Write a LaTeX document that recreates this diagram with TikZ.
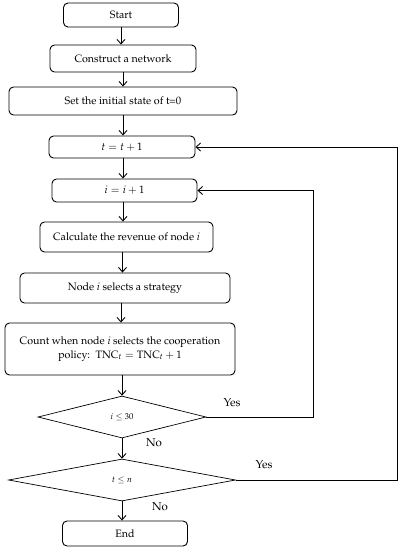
\documentclass[tikz,border=0pt]{standalone}
\usepackage[T1]{fontenc}
\usepackage{mathpazo}
\usetikzlibrary{shapes.geometric,arrows.meta}
\begin{document}
\begin{tikzpicture}[x=1pt,y=-1pt,
  box/.style={draw,line width=0.9pt,rounded corners=4.5pt,inner sep=2pt,align=center,font=\fontsize{10.7}{13.5}\selectfont},
  dia/.style={draw,line width=0.7pt,diamond,inner sep=0pt,font=\fontsize{8.5}{10}\selectfont},
  arr/.style={line width=0.9pt,-{Straight Barb[length=4.5pt,width=8pt,line width=0.9pt]}},
  lbl/.style={font=\fontsize{11.5}{13}\selectfont,inner sep=0pt}]
\useasboundingbox (0,0) rectangle (401,550);
\node[box,minimum width=115pt,minimum height=24pt] (start) at (121,15) {Start};
\node[box,minimum width=146pt,minimum height=27pt] (net) at (123,58.5) {Construct a network};
\node[box,minimum width=228pt,minimum height=28pt] (init) at (123,101) {Set the initial state of t=0};
\node[box,minimum width=146pt,minimum height=22pt] (tinc) at (122,147) {$t=t+1$};
\node[box,minimum width=145pt,minimum height=23pt] (iinc) at (124.5,190.5) {$i=i+1$};
\node[box,minimum width=173pt,minimum height=30pt] (rev) at (126.5,237) {Calculate the revenue of node \textit{i}};
\node[box,minimum width=210pt,minimum height=30pt] (sel) at (125,288) {Node \textit{i} selects a strategy};
\node[box,minimum width=230pt,minimum height=52pt] (cnt) at (120,349) {Count when node \textit{i} selects the cooperation\\policy:\ \ $\mathrm{TNC}_t=\mathrm{TNC}_t+1$};
\node[dia,minimum width=168pt,minimum height=42pt,aspect=4] (d1) at (122,417) {$i\le 30$};
\node[dia,minimum width=227pt,minimum height=42pt,aspect=5.4] (d2) at (122,480) {$t\le n$};
\node[box,minimum width=125pt,minimum height=25pt] (end) at (125,533.5) {End};
\coordinate (c1) at (313,0);
\coordinate (c2) at (397,0);
\draw[arr] (start.south -| 121,0) -- (net.north -| 121,0);
\draw[arr] (net.south -| 123,0) -- (init.north -| 123,0);
\draw[arr] (init.south -| 123,0) -- (tinc.north -| 123,0);
\draw[arr] (tinc.south -| 123,0) -- (iinc.north -| 123,0);
\draw[arr] (iinc.south -| 123,0) -- (rev.north -| 123,0);
\draw[arr] (rev.south -| 122.5,0) -- (sel.north -| 122.5,0);
\draw[arr] (sel.south -| 121,0) -- (cnt.north -| 121,0);
\draw[arr] (cnt.south -| 122,0) -- (d1.north);
\draw[arr] (d1.south) -- (d2.north);
\draw[arr] (d2.south) -- (end.north -| d2.south);
\draw[arr] (d1.east) -- (d1.east -| c1) -- (iinc.east -| c1) -- (iinc.east);
\draw[arr] (d2.east) -- (d2.east -| c2) -- (tinc.east -| c2) -- (tinc.east);
\node[lbl] (y1) at (232,403) {Yes};
\node[lbl] (n1) at (154,443) {No};
\node[lbl] (y2) at (264,465) {Yes};
\node[lbl] (n2) at (160,507) {No};
\end{tikzpicture}
\end{document}
